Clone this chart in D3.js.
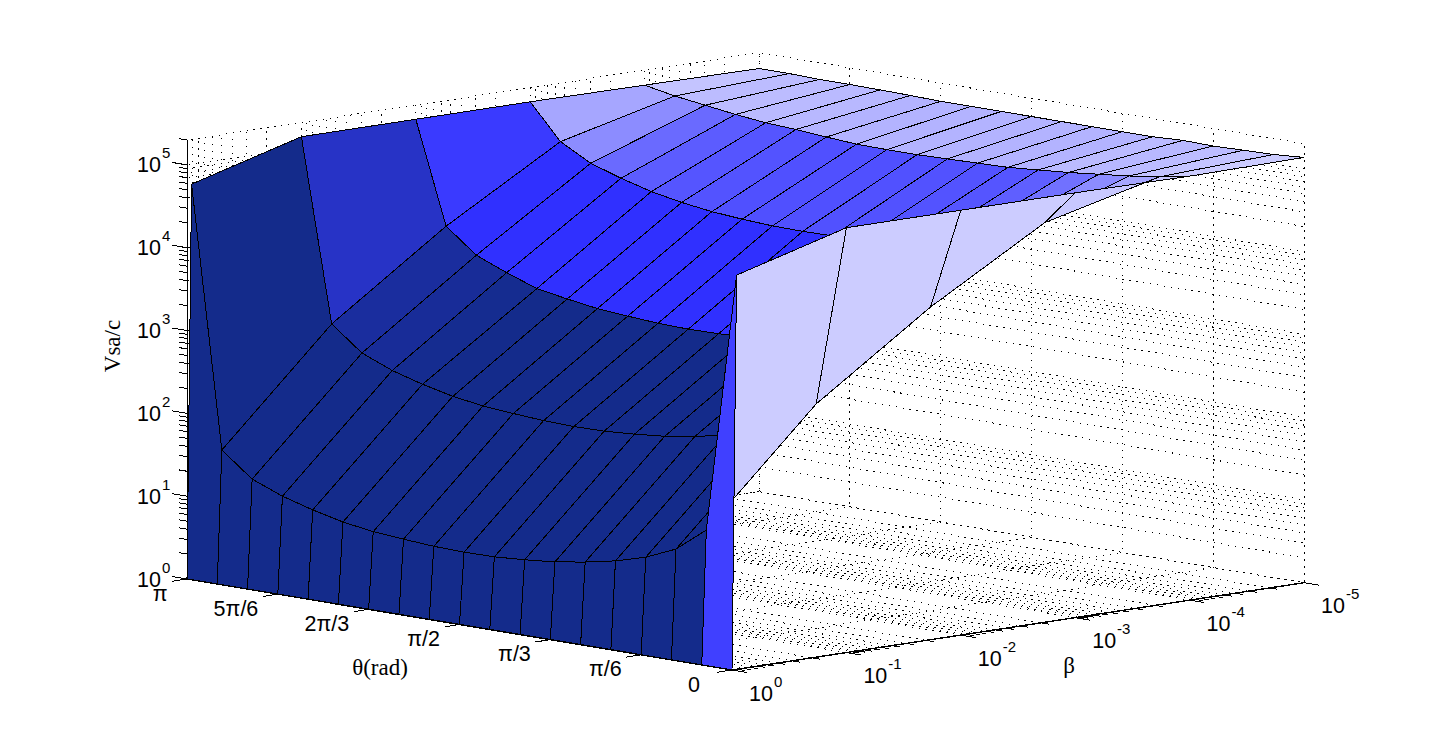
<!DOCTYPE html>
<html><head><meta charset="utf-8">
<script src="https://cdn.jsdelivr.net/npm/d3@7"></script>
<style>html,body{margin:0;padding:0;background:#fff}svg{display:block}</style>
</head><body><svg id="c" width="1441" height="753"></svg>
<script>
// ---- data ----
const thetaDegrees = [0,10,20,30,40,50,60,70,80,90,100,110,120,130,140,150,160,170,180];
const betaValues = [1,0.912,0.1,0.01,0.001,0.0001,0.00001];
const log10V_beta1    = [0,0,0,0,0,0,0,0,0,0,0,0,0,0,0,0,0,0,0];
const log10V_beta0912 = [4.76,1.62,1.33,1.17,1.065,0.99,0.93,0.895,0.87,0.865,0.875,0.9,0.93,0.985,1.07,1.175,1.32,1.61,4.76];
const log10V_beta1e1  = [5.13,2.94,2.645,2.485,2.38,2.305,2.245,2.21,2.185,2.18,2.19,2.215,2.245,2.30,2.385,2.49,2.64,2.93,5.13];
const log10V_beta1e2  = [5.13,3.90,3.61,3.45,3.345,3.27,3.21,3.175,3.15,3.145,3.155,3.18,3.21,3.265,3.33,3.46,3.61,3.90,5.13];
const log10V_beta1e3  = [5.13,4.71,4.51,4.39,4.29,4.22,4.17,4.14,4.12,4.115,4.12,4.14,4.17,4.22,4.29,4.39,4.51,4.71,5.13];
const log10V_beta1e4  = [5.12,5.05,5.0,4.96,4.92,4.89,4.86,4.85,4.84,4.83,4.83,4.835,4.86,4.89,4.91,4.95,5.0,5.05,5.12];
const log10V_beta1e5  = [5.135,5.11,5.10,5.09,5.097,5.08,5.08,5.08,5.08,5.08,5.08,5.08,5.08,5.09,5.096,5.10,5.10,5.11,5.11];
const surfaceRows = [log10V_beta1,log10V_beta0912,log10V_beta1e1,log10V_beta1e2,log10V_beta1e3,log10V_beta1e4,log10V_beta1e5];

const thetaTickDegrees = [180,150,120,90,60,30,0];
const thetaTickLabels  = ["π","5π/6","2π/3","π/2","π/3","π/6","0"];
const betaExponents = [0,-1,-2,-3,-4,-5];
const vExponents = [0,1,2,3,4,5];
const colorStops = [3.27,3.33,3.46,3.61,3.9,4.11,4.51,4.71,4.76,4.83,4.89,4.91,4.95,5.0,5.05,5.08,5.1,5.11,5.13];
const colorValues = ["#142b8b","#152c90","#182c98","#1a2d9e","#2733c6","#3030ff","#3030ff","#3a3aff","#4040ff","#5050ff","#5555ff","#5c5cff","#6a6aff","#8c8cff","#a6a6ff","#b3b3ff","#bcbcff","#c4c4ff","#ccccff"];

// ---- scales: each axis to a fraction of its length ----
const thetaU = d3.scaleLinear().domain([0,180]).range([0,1]);
const betaU  = d3.scaleLog().domain([1,1e-5]).range([0,1]);
const vU     = d3.scaleLog().domain([1,2e5]).range([0,1]);
const color  = d3.scaleLinear().domain(colorStops).range(colorValues).clamp(true);

// the chart's oblique view: origin plus the three axis vectors on screen
const O = [732,670], TH = [-545,-91], BE = [572,-87.3], VV = [0,-439];
const P = (t,b,v) => {
  const a=thetaU(t), c=betaU(b), e=vU(v);
  return [O[0]+a*TH[0]+c*BE[0]+e*VV[0], O[1]+a*TH[1]+c*BE[1]+e*VV[1]];
};
const svg = d3.select("#c");
const ln = d3.line();

// ---- grid ----
const grid = svg.append("g").attr("fill","none").attr("stroke","#000").attr("stroke-width",1)
  .attr("stroke-dasharray","1.3 5.7").attr("shape-rendering","crispEdges");
const decades = (lo,hi)=>{const o=[];for(let e=lo;e<hi;e++)for(let m=1;m<10;m++)o.push(m*Math.pow(10,e));o.push(Math.pow(10,hi));return o;};
const betaGrid = decades(-5,0);
const vGrid = decades(0,5).concat([2e5]);
const seg = (g,a,b)=>g.append("path").attr("d",ln([a,b]));
let dashShift = 0;
const gridSeg = (a,b)=>{ dashShift=(dashShift+2.3)%7; seg(grid,a,b).attr("stroke-dashoffset",dashShift); };
betaGrid.forEach(b=>{ gridSeg(P(0,b,1),P(180,b,1)); gridSeg(P(180,b,1),P(180,b,2e5)); });
thetaTickDegrees.forEach(t=>{ gridSeg(P(t,1,1),P(t,1e-5,1)); gridSeg(P(t,1e-5,1),P(t,1e-5,2e5)); });
vGrid.forEach(v=>{ gridSeg(P(180,1,v),P(180,1e-5,v)); gridSeg(P(0,1e-5,v),P(180,1e-5,v)); });

// ---- surface, painted back to front ----
const surf = svg.append("g").attr("stroke","#000").attr("stroke-width",1).attr("stroke-linejoin","miter").attr("shape-rendering","crispEdges");
const pt = (r,k)=>P(thetaDegrees[k],betaValues[r],Math.pow(10,surfaceRows[r][k]));
for(let r=betaValues.length-2;r>=0;r--){
  for(let k=thetaDegrees.length-2;k>=0;k--){
    const q=[pt(r,k),pt(r,k+1),pt(r+1,k+1),pt(r+1,k)];
    const fill=color(surfaceRows[r+1][k]);
    const hull=d3.polygonHull(q);
    if(hull.length===4){
      surf.append("path").attr("d",ln(q)+"Z").attr("fill",fill);
    } else {
      // a folded cell: its fill covers the fold and only real mesh edges are stroked
      surf.append("path").attr("d",ln(hull)+"Z").attr("fill",fill).attr("stroke","none");
      hull.forEach((a,i)=>{
        const b=hull[(i+1)%hull.length], d=Math.abs(q.indexOf(a)-q.indexOf(b));
        if(d===1||d===3) surf.append("path").attr("d",ln([a,b])).attr("fill","none");
      });
    }
  }
}

// ---- axes ----
const ax = svg.append("g").attr("fill","none").attr("stroke","#000").attr("stroke-width",1).attr("shape-rendering","crispEdges");
seg(ax,P(180,1,1),P(0,1,1)).attr("stroke-width",1.4);
seg(ax,P(0,1,1),P(0,1e-5,1)).attr("stroke-width",1.4);
seg(ax,P(180,1,1),P(180,1,2e5));
const unitTH=[TH[0]/Math.hypot(...TH),TH[1]/Math.hypot(...TH)];
const unitBE=[BE[0]/Math.hypot(...BE),BE[1]/Math.hypot(...BE)];
const tick=(p,u,len,s)=>seg(ax,p,[p[0]+s*u[0]*len,p[1]+s*u[1]*len]);
const isMajor=v=>Math.abs(Math.log10(v)-Math.round(Math.log10(v)))<1e-9;
vGrid.forEach(v=>tick(P(180,1,v),unitTH,isMajor(v)?15:8,1));
betaGrid.forEach(b=>tick(P(0,b,1),unitTH,isMajor(b)?15:8,-1));
thetaTickDegrees.forEach(t=>tick(P(t,1,1),unitBE,15,-1));

// ---- text ----
const txt = svg.append("g").attr("fill","#000").attr("font-family","'Liberation Sans',Arial,sans-serif");
const pow10=(x,y,exp)=>{
  const t=txt.append("text").attr("x",x).attr("y",y).attr("font-size",21.5);
  t.append("tspan").text("10");
  t.append("tspan").attr("dy",-14).attr("dx",1).attr("font-size",15).text(exp);
};
vExponents.forEach(e=>{const p=P(180,1,Math.pow(10,e)); pow10(p[0]-50,p[1]+7.5,e);});
betaExponents.forEach(e=>{const p=P(0,Math.pow(10,e),1); pow10(p[0]+17,p[1]+30.7,e);});
thetaTickDegrees.forEach((t,i)=>{
  const p=P(t,1,1);
  txt.append("text").attr("x",p[0]-(t===0?32:19.5)).attr("y",p[1]+21.5).attr("text-anchor","end").attr("font-size",21.5).text(thetaTickLabels[i]);
});
const serif = svg.append("g").attr("fill","#000").attr("font-family","'Liberation Serif','Times New Roman',serif").attr("font-size",23);
serif.append("text").attr("x",380).attr("y",675).attr("text-anchor","middle").text("θ(rad)");
serif.append("text").attr("x",1069).attr("y",673).attr("text-anchor","middle").text("β");
serif.append("text").attr("transform","translate(120,346) rotate(-90)").attr("text-anchor","middle").text("Vsa/c");
</script></body></html>
